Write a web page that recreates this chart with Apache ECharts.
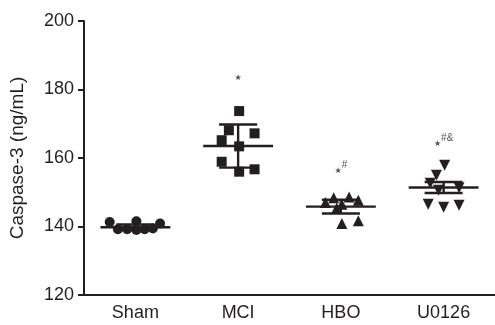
<!DOCTYPE html>
<html>
<head>
<meta charset="utf-8">
<script src="https://cdn.jsdelivr.net/npm/echarts@6/dist/echarts.min.js"></script>
<style>
  html, body { margin: 0; padding: 0; background: #fff; }
  #main { width: 495px; height: 325px; }
</style>
</head>
<body>
<div id="main"></div>
<script>
// groups on the x axis
var groups = ['Sham', 'MCI', 'HBO', 'U0126'];

// per-animal values (ng/mL) and horizontal jitter
var shamVals = [141.3, 139.2, 139.2, 141.5, 139.0, 139.2, 139.4, 140.9];
var shamJit  = [-0.25, -0.17, -0.08, 0.01, 0.01, 0.09, 0.17, 0.24];
var mciVals  = [173.7, 168.1, 167.2, 165.2, 163.4, 158.9, 156.0, 156.7];
var mciJit   = [0.01, -0.09, 0.16, -0.16, 0.01, -0.16, 0.01, 0.16];
var hboVals  = [147.0, 148.4, 146.5, 148.6, 147.7, 145.4, 140.9, 141.7];
var hboJit   = [-0.15, -0.07, 0.01, 0.08, 0.17, -0.04, 0.01, 0.17];
var u0126Vals = [157.9, 155.0, 152.6, 151.3, 150.6, 146.5, 145.6, 146.2];
var u0126Jit  = [0.01, -0.07, -0.13, 0.15, -0.05, -0.15, 0.0, 0.15];

// mean and SD per group
var means = [139.8, 163.5, 145.8, 151.4];
var sds   = [0.8, 6.3, 2.0, 1.6];

// significance marks
var sigLabels = ['', '*', '*#', '*#&'];
var sigY      = [0, 183.3, 157.2, 165.0];

var yTicks = { min: 120, max: 200, step: 20 };

var ink = '#231f20';

function pts(idx, vals, jit) {
	var out = [];
	for (var i = 0; i < vals.length; i++) {
		out.push([idx + jit[i], vals[i]]);
	}
	return out;
}

var barData = [];
for (var g = 0; g < groups.length; g++) {
	barData.push([g, means[g], sds[g]]);
}

var sigData = [];
for (var k = 0; k < sigLabels.length; k++) {
	if (sigLabels[k] !== '') sigData.push({ value: [k, sigY[k]], name: sigLabels[k] });
}

var chart = echarts.init(document.getElementById('main'), null, { renderer: 'canvas' });

var dot = { color: ink, opacity: 1 };

var option = {
	animation: false,
	grid: { left: 83, right: 0, top: 21, bottom: 30, containLabel: false },
	xAxis: [{
		type: 'category',
		data: groups,
		boundaryGap: true,
		axisLine: { lineStyle: { color: ink, width: 2 } },
		axisTick: { alignWithLabel: true, length: 6, lineStyle: { color: ink, width: 2 } },
		axisLabel: { color: ink, fontSize: 18, fontFamily: 'Liberation Sans', margin: 9 },
		splitLine: { show: false }
	}, {
		type: 'value',
		min: -0.5,
		max: 3.5,
		show: false
	}],
	yAxis: {
		type: 'value',
		min: yTicks.min,
		max: yTicks.max,
		interval: yTicks.step,
		name: 'Caspase-3 (ng/mL)',
		nameLocation: 'middle',
		nameGap: 57,
		nameTextStyle: { color: ink, fontSize: 19, fontFamily: 'Liberation Sans' },
		axisLine: { show: true, onZero: false, lineStyle: { color: ink, width: 2 } },
		axisTick: { show: true, length: 6, lineStyle: { color: ink, width: 2 } },
		axisLabel: { color: ink, fontSize: 18, fontFamily: 'Liberation Sans', margin: 10 },
		splitLine: { show: false }
	},
	series: [
		{ type: 'scatter', xAxisIndex: 1, symbol: 'circle', symbolSize: 10,
		  itemStyle: dot, data: pts(0, shamVals, shamJit) },
		{ type: 'scatter', xAxisIndex: 1, symbol: 'rect', symbolSize: 10,
		  itemStyle: dot, data: pts(1, mciVals, mciJit) },
		{ type: 'scatter', xAxisIndex: 1, symbol: 'triangle', symbolSize: 11,
		  itemStyle: dot, data: pts(2, hboVals, hboJit) },
		{ type: 'scatter', xAxisIndex: 1, symbol: 'triangle', symbolSize: 11, symbolRotate: 180,
		  itemStyle: dot, data: pts(3, u0126Vals, u0126Jit) },
		{
			// mean line and SD bars
			type: 'custom',
			xAxisIndex: 1,
			z: 3,
			data: barData,
			renderItem: function (params, api) {
				var i = api.value(0), m = api.value(1), s = api.value(2);
				var c = api.coord([i, m]);
				var top = api.coord([i, m + s]);
				var bot = api.coord([i, m - s]);
				var band = api.size([1, 0])[0];
				var hw = band * 0.34, cw = band * 0.185;
				var st = { stroke: ink, lineWidth: 2.4 };
				return {
					type: 'group',
					children: [
						{ type: 'line', shape: { x1: c[0] - hw, y1: c[1], x2: c[0] + hw, y2: c[1] }, style: st },
						{ type: 'line', shape: { x1: c[0], y1: top[1], x2: c[0], y2: bot[1] }, style: st },
						{ type: 'line', shape: { x1: c[0] - cw, y1: top[1], x2: c[0] + cw, y2: top[1] }, style: st },
						{ type: 'line', shape: { x1: c[0] - cw, y1: bot[1], x2: c[0] + cw, y2: bot[1] }, style: st }
					]
				};
			}
		},
		{
			// significance marks above groups
			type: 'scatter',
			xAxisIndex: 1,
			symbolSize: 0,
			data: sigData,
			label: {
				show: true,
				position: 'inside',
				formatter: function (p) {
					var t = p.name;
					return '{s|\u2605}' + (t.length > 1 ? '{h|' + t.substring(1) + '}' : '');
				},
				rich: {
					s: { fontSize: 8, color: ink, fontFamily: 'DejaVu Sans', verticalAlign: 'bottom' },
					h: { fontSize: 10, color: ink, fontFamily: 'Liberation Sans', padding: [0, 0, 5, 0] }
				}
			}
		}
	]
};

chart.setOption(option);
</script>
</body>
</html>
